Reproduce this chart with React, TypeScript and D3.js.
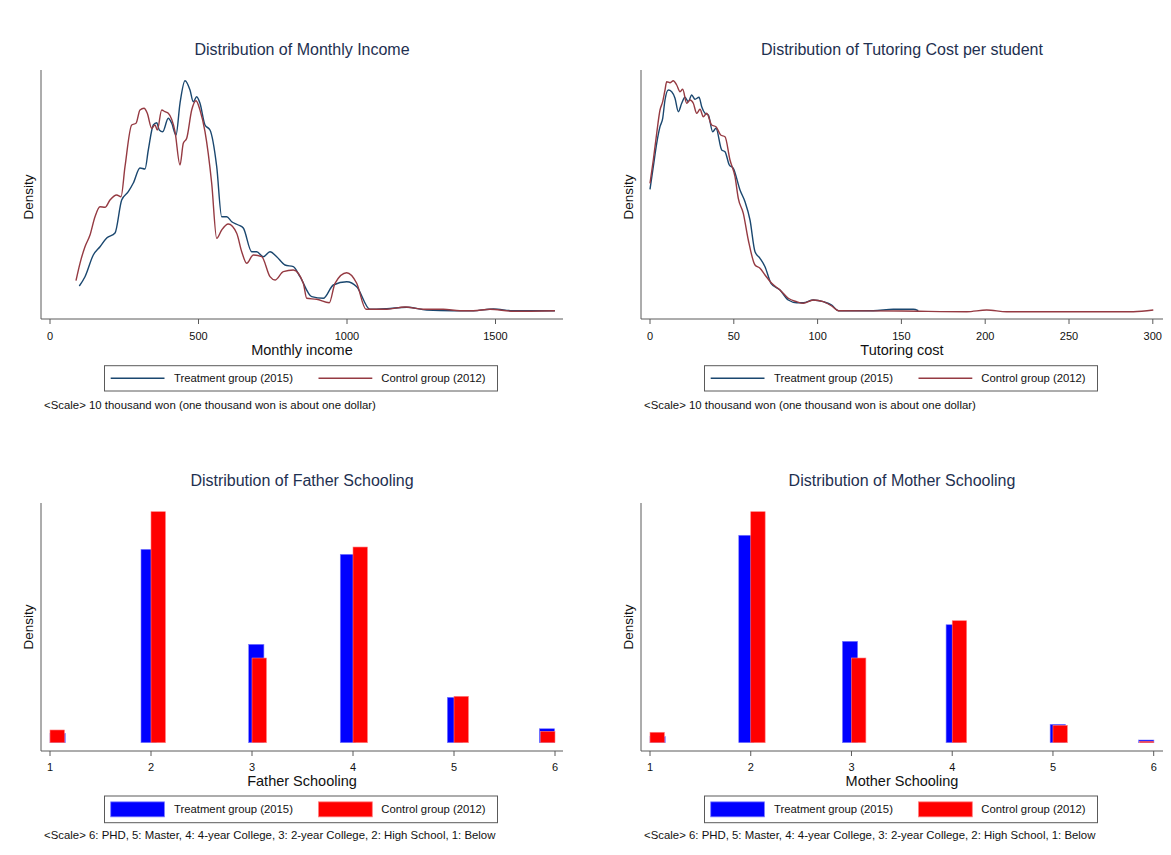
import React from "react";
import * as d3 from "d3";

// ---------- DATA ----------
// Kernel densities (relative density units; y axis carries no labels)
const incomeTreatment: [number, number][] = [
  [98.7, 2.6], [117.8, 3.53], [145.8, 5.7], [168.4, 6.53], [190.9, 7.4], [218.9, 7.9],
  [241.4, 11.2], [263.6, 12.03], [280.5, 12.9], [303, 14.4], [319.9, 14.3], [331, 16.2],
  [347.8, 18.7], [359.3, 18.93], [368, 18.2], [379.5, 18.03], [398.3, 19.37], [409.8, 18.87],
  [424.2, 17.7], [437.7, 20.87], [454.5, 23.13], [471.4, 22.2], [482.5, 21.03], [493.9, 21.53],
  [505, 20.87], [521.9, 18.7], [538.7, 18.2], [561.3, 14.53], [578.1, 9.53], [595, 9.53],
  [611.8, 9.03], [634, 8.7], [650.8, 8.4], [679.1, 6.03], [696, 6.03], [718.2, 5.53],
  [740.7, 6.03], [763.3, 5.53], [791.2, 4.7], [819.2, 4.53], [841.8, 3.53], [881.1, 1.53],
  [920.2, 1.37], [953.9, 2.7], [999, 3.03], [1032.7, 2.53], [1077.4, 0.27], [1133.7, 0.33],
  [1201, 0.47], [1268.4, 0.2], [1357.9, 0.13], [1425.3, 0.13], [1492.6, 0.3], [1560, 0.13],
  [1700, 0.13],
];
const incomeControl: [number, number][] = [
  [87.5, 3.13], [101, 4.87], [117.8, 6.53], [134.7, 7.7], [151.5, 9.53], [168.4, 10.53],
  [185.2, 10.47], [202, 11.2], [224.6, 11.7], [239.1, 11.53], [252.5, 14.53], [275.1, 18.7],
  [289.6, 18.87], [303, 20.2], [316.5, 20.37], [327.6, 19.87], [342.4, 18.37], [353.5, 18.7],
  [361.3, 18.2], [376.1, 20.2], [387.2, 20.03], [398.3, 19.87], [420.9, 18.03], [437.7, 14.7],
  [448.8, 16.87], [460.3, 17.37], [477.1, 20.2], [491.6, 21.13], [505, 20.2], [521.9, 18.03],
  [544.4, 12.87], [561.3, 7.37], [578.1, 8.2], [600.3, 8.8], [628.6, 7.87], [645.5, 6.03],
  [662.3, 4.87], [684.5, 5.7], [712.8, 5.53], [740.7, 3.53], [757.6, 3.2], [785.5, 4.03],
  [819.2, 4.2], [852.9, 2.87], [864.3, 1.37], [897.9, 1.27], [940.4, 0.93], [959.6, 2.87],
  [999, 3.93], [1032.7, 2.87], [1064, 0.27], [1133.7, 0.27], [1195.3, 0.5], [1256.9, 0.27],
  [1324.2, 0.27], [1380.5, 0.13], [1425.3, 0.13], [1481.5, 0.27], [1560, 0.07], [1700, 0.13],
];
const tutoringTreatment: [number, number][] = [
  [0, 12.27], [1.97, 14.53], [4.0, 16.87], [5.97, 18.53], [7.58, 19.37], [8.95, 21.2],
  [10.92, 22.2], [12.95, 22.03], [14.92, 21.37], [16.89, 20.03], [18.91, 20.87], [20.88, 21.47],
  [22.85, 21.03], [24.88, 21.7], [26.85, 21.27], [29.24, 21.47], [30.85, 20.53], [32.82, 19.87],
  [34.79, 19.7], [37.41, 18.03], [39.38, 18.37], [42.78, 16.2], [44.75, 16.03], [47.32, 14.7],
  [49.7, 14.37], [53.7, 12.2], [56.68, 11.03], [59.67, 9.2], [62.65, 6.03], [65.63, 5.37],
  [68.62, 4.53], [72.2, 2.87], [77.57, 2.2], [82.5, 1.2], [87.5, 0.93], [91.5, 0.93],
  [97.4, 1.2], [103.4, 1.03], [108.4, 0.7], [112.4, 0.13], [133.2, 0.13], [145.2, 0.27],
  [157.1, 0.27], [160.1, 0.13],
];
const tutoringControl: [number, number][] = [
  [0, 12.87], [1.97, 15.2], [4.0, 17.87], [5.97, 20.2], [7.58, 21.03], [8.95, 22.2],
  [9.96, 23.03], [11.93, 22.93], [13.9, 23.13], [15.93, 22.7], [17.9, 22.03], [19.51, 22.27],
  [21.9, 20.87], [23.87, 21.2], [25.84, 20.87], [27.86, 19.87], [29.83, 20.27], [31.8, 19.53],
  [33.83, 19.87], [36.81, 18.7], [39.38, 18.53], [42.18, 17.7], [44.75, 17.53], [47.73, 15.2],
  [50.72, 13.53], [52.68, 11.37], [55.67, 9.87], [58.65, 7.2], [62.65, 4.7], [65.63, 4.37],
  [68.62, 3.7], [72.61, 2.87], [77.57, 2.2], [82.5, 1.37], [87.5, 1.03], [91.5, 0.87],
  [97.4, 1.2], [103.4, 1.03], [108.4, 0.6], [112.4, 0.13], [150, 0.1], [189, 0.03],
  [200.9, 0.2], [212.8, 0.03], [288.4, 0.03], [300.3, 0.2],
];

const incomeTicks = [0, 500, 1000, 1500];
const tutoringTicks = [0, 50, 100, 150, 200, 250, 300];
const schoolingTicks = [1, 2, 3, 4, 5, 6];

// Histogram bins (bin start on schooling scale, density)
const fatherTreatmentStart = [1.0, 1.901, 2.967, 3.874, 4.934, 5.845];
const fatherTreatmentDensity = [0.113, 2.327, 1.184, 2.267, 0.546, 0.168];
const fatherControlStart = [1.0, 2.0, 3.0, 4.0, 5.0, 5.857];
const fatherControlDensity = [0.153, 2.78, 1.019, 2.355, 0.558, 0.137];
const motherTreatmentStart = [1.0, 1.881, 2.91, 3.939, 4.972, 5.851];
const motherTreatmentDensity = [0.09, 3.105, 1.518, 1.766, 0.275, 0.04];
const motherControlStart = [1.0, 2.0, 3.0, 4.0, 5.0, 5.857];
const motherControlDensity = [0.156, 3.458, 1.268, 1.826, 0.26, 0.021];
const treatmentBinWidth = 0.151;
const controlBinWidth = 0.143;

const seriesLabels = ["Treatment group (2015)", "Control group (2012)"];
const incomeNote = "<Scale> 10 thousand won (one thousand won is about one dollar)";
const schoolNote = "<Scale> 6: PHD, 5: Master, 4: 4-year College, 3: 2-year College, 2: High School, 1: Below";

// ---------- STYLE ----------
const FONT = "'Liberation Sans', Arial, Helvetica, sans-serif";
const NAVY = "#1a476f";
const MAROON = "#953a42";
const TITLE = "#1e3050";
const AXIS = "#5a5a5a";

type Layout = {
  ox: number;
  axisTop: number;
  axisBottom: number;
  titleY: number;
  tickY: number;
  xTitleY: number;
  densityY: number;
  legendTop: number;
  legendBottom: number;
  noteY: number;
};

function Frame({ L, title, xTitle, ticks, x, note, swatch }: {
  L: Layout; title: string; xTitle: string; ticks: number[]; x: d3.ScaleLinear<number, number>;
  note: string; swatch: "line" | "bar";
}) {
  const left = L.ox + 41;
  const right = L.ox + 563;
  const cx = (left + right) / 2;
  const legMid = (L.legendTop + L.legendBottom) / 2;
  const colorsLine = [NAVY, MAROON];
  const colorsBar = ["#0000ff", "#ff0000"];
  const samples = [[110.7, 164.5, 174], [318.5, 372.3, 381.3]];
  return (
    <g fontFamily={FONT}>
      <text x={cx} y={L.titleY} textAnchor="middle" fontSize={16} fill={TITLE}>{title}</text>
      <line x1={left} x2={left} y1={L.axisTop} y2={L.axisBottom} stroke={AXIS} strokeWidth={1} />
      <line x1={left} x2={right} y1={L.axisBottom} y2={L.axisBottom} stroke={AXIS} strokeWidth={1} />
      {ticks.map((t) => (
        <g key={t}>
          <line x1={x(t)} x2={x(t)} y1={L.axisBottom} y2={L.axisBottom + 5} stroke={AXIS} strokeWidth={1} />
          <text x={x(t)} y={L.tickY} textAnchor="middle" fontSize={11} fill="#111">{t}</text>
        </g>
      ))}
      <text x={cx} y={L.xTitleY} textAnchor="middle" fontSize={14.5} fill="#111">{xTitle}</text>
      <text transform={`translate(${L.ox + 33},${L.densityY}) rotate(-90)`} textAnchor="middle" fontSize={13.5} fill="#111">Density</text>
      <rect x={L.ox + 104.5} y={L.legendTop} width={393} height={L.legendBottom - L.legendTop} fill="#fff" stroke={AXIS} strokeWidth={1} />
      {samples.map(([a, b, tx], i) => (
        <g key={i}>
          {swatch === "line" ? (
            <line x1={L.ox + a} x2={L.ox + b} y1={legMid} y2={legMid} stroke={colorsLine[i]} strokeWidth={1.5} />
          ) : (
            <rect x={L.ox + a} y={legMid - 7.5} width={b - a} height={15} fill={colorsBar[i]} stroke={i === 0 ? "#8080ff" : "#ff8080"} strokeWidth={0.8} />
          )}
          <text x={L.ox + tx} y={legMid + 4} fontSize={11.3} fill="#111">{seriesLabels[i]}</text>
        </g>
      ))}
      <text x={L.ox + 44} y={L.noteY} fontSize={11.4} fill="#111">{note}</text>
    </g>
  );
}

function DensityPanel({ ox, title, xTitle, ticks, treat, ctrl, tickMax }: {
  ox: number; title: string; xTitle: string; ticks: number[];
  treat: [number, number][]; ctrl: [number, number][]; tickMax: number;
}) {
  const L: Layout = {
    ox, axisTop: 70, axisBottom: 319, titleY: 54.7, tickY: 339.8, xTitleY: 354.5,
    densityY: 197, legendTop: 365.7, legendBottom: 391, noteY: 409,
  };
  const x = d3.scaleLinear().domain([0, tickMax]).range([ox + 50, ox + 50 + (tickMax === 1500 ? 445.5 : 502.8)]);
  const yMax = d3.max([...treat, ...ctrl], (d) => d[1]) as number;
  const y = d3.scaleLinear().domain([0, yMax]).range([312, 80.7]);
  const line = d3.line<[number, number]>().x((d) => x(d[0])).y((d) => y(d[1])).curve(d3.curveMonotoneX);
  return (
    <g>
      <Frame L={L} title={title} xTitle={xTitle} ticks={ticks} x={x} note={incomeNote} swatch="line" />
      <path d={line(treat) || ""} fill="none" stroke={NAVY} strokeWidth={1.4} strokeLinejoin="round" />
      <path d={line(ctrl) || ""} fill="none" stroke={MAROON} strokeWidth={1.4} strokeLinejoin="round" />
    </g>
  );
}

function HistPanel({ ox, title, xTitle, tStart, tDens, cStart, cDens, xEnd }: {
  ox: number; title: string; xTitle: string; tStart: number[]; tDens: number[];
  cStart: number[]; cDens: number[]; xEnd: number;
}) {
  const L: Layout = {
    ox, axisTop: 503, axisBottom: 751, titleY: 485.7, tickY: 771.4, xTitleY: 785.5,
    densityY: 627, legendTop: 796, legendBottom: 822.7, noteY: 839,
  };
  const x = d3.scaleLinear().domain([1, 6]).range([ox + 50, ox + xEnd]);
  const yMax = d3.max([...tDens, ...cDens]) as number;
  const y = d3.scaleLinear().domain([0, yMax]).range([742.7, 511.7]);
  return (
    <g>
      <Frame L={L} title={title} xTitle={xTitle} ticks={schoolingTicks} x={x} note={schoolNote} swatch="bar" />
      {tStart.map((s, i) => (
        <rect key={"t" + i} x={x(s)} y={y(tDens[i])} width={x(s + treatmentBinWidth) - x(s)} height={y(0) - y(tDens[i])}
          fill="#0000ff" stroke="#7f7fff" strokeWidth={0.6} />
      ))}
      {cStart.map((s, i) => (
        <rect key={"c" + i} x={x(s)} y={y(cDens[i])} width={x(s + controlBinWidth) - x(s)} height={y(0) - y(cDens[i])}
          fill="#ff0000" stroke="#ff7f7f" strokeWidth={0.6} />
      ))}
    </g>
  );
}

export default function App() {
  return (
    <div style={{ position: "fixed", left: 0, top: 0, background: "#fff" }}>
      <svg width={1171} height={855} style={{ display: "block" }}>
        <rect x={0} y={0} width={1171} height={855} fill="#fff" />
        <DensityPanel ox={0} title="Distribution of Monthly Income" xTitle="Monthly income" ticks={incomeTicks}
          treat={incomeTreatment} ctrl={incomeControl} tickMax={1500} />
        <DensityPanel ox={600} title="Distribution of Tutoring Cost per student" xTitle="Tutoring cost" ticks={tutoringTicks}
          treat={tutoringTreatment} ctrl={tutoringControl} tickMax={300} />
        <HistPanel ox={0} title="Distribution of Father Schooling" xTitle="Father Schooling"
          tStart={fatherTreatmentStart} tDens={fatherTreatmentDensity} cStart={fatherControlStart} cDens={fatherControlDensity} xEnd={555} />
        <HistPanel ox={600} title="Distribution of Mother Schooling" xTitle="Mother Schooling"
          tStart={motherTreatmentStart} tDens={motherTreatmentDensity} cStart={motherControlStart} cDens={motherControlDensity} xEnd={553.7} />
      </svg>
    </div>
  );
}
